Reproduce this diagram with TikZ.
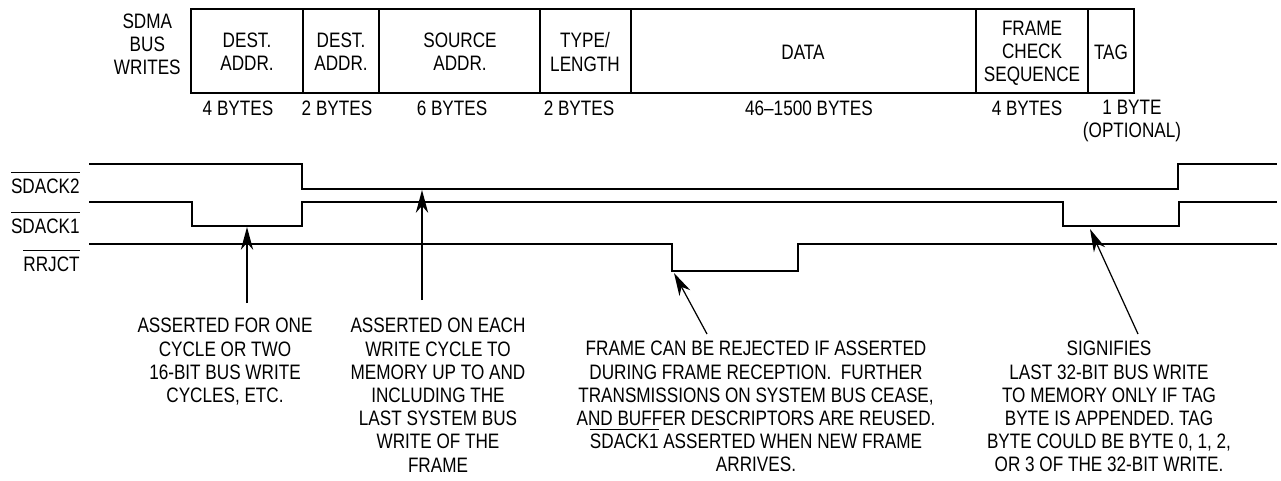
\documentclass[tikz,border=0pt]{standalone}
\usepackage{fontspec}
\setmainfont{Liberation Sans}[FakeStretch=0.82]
\usetikzlibrary{arrows.meta}

% active-low signal name, bar set a little above the capitals
\newcommand{\barsig}[2][10.4pt]{\ensuremath{\overline{\mbox{\rule{0pt}{#1}#2}}}}

\begin{document}
\begin{tikzpicture}[x=0.02cm, y=-0.02cm,
        % Define styles for the frame, the waveforms and the texts
        cell/.style={line width=1pt},
        wave/.style={line width=1pt, line join=miter},
        txt/.style={font=\fontsize{11.9}{13.2}\selectfont, align=center, inner sep=0pt},
        sig/.style={txt, anchor=base east},
        note/.style={txt, anchor=north},
        pointer/.style={line width=0.7pt, -{Stealth[length=13pt, width=7pt, inset=4pt]}}]

        \useasboundingbox (0,0) rectangle (1281,480);

        % 1. The frame as it is written over the SDMA bus
        \draw[cell] (191,9) rectangle (1134,93);
        \foreach \x in {303,379,540,631,976,1088}
            \draw[cell] (\x,9) -- (\x,93);

        \node[txt, anchor=east] (sdma) at (181,44) {SDMA\\BUS\\WRITES};
        \node[txt] (dest4) at (247,52) {DEST.\\ADDR.};
        \node[txt] (dest2) at (341,52) {DEST.\\ADDR.};
        \node[txt] (src) at (460,52) {SOURCE\\ADDR.};
        \node[txt] (type) at (585,52) {TYPE/\\LENGTH};
        \node[txt] (data) at (803,52) {DATA};
        \node[txt] (fcs) at (1032,53) {FRAME\\CHECK\\SEQUENCE};
        \node[txt] (tag) at (1111,52) {TAG};

        % 2. Field sizes
        \node[txt] (b4) at (238,108) {4 BYTES};
        \node[txt] (b2) at (337,108) {2 BYTES};
        \node[txt] (b6) at (452,108) {6 BYTES};
        \node[txt] (bt) at (579,108) {2 BYTES};
        \node[txt] (bd) at (809,108) {46--1500 BYTES};
        \node[txt] (bf) at (1027,108) {4 BYTES};
        \node[txt, anchor=north] (bg) at (1132,100) {1 BYTE\\(OPTIONAL)};

        % 3. The waveforms
        \node[sig] (sd2) at (80,193) {\barsig{SDACK2}};
        \node[sig] (sd1) at (80,233) {\barsig{SDACK1}};
        \node[sig] (rr) at (80,271) {\barsig{RRJCT}};

        \draw[wave] (89,164) -- (302,164) -- (302,189) -- (1178,189)
            -- (1178,164) -- (1277,164);
        \draw[wave] (89,202) -- (192,202) -- (192,226) -- (302,226)
            -- (302,202) -- (1063,202) -- (1063,226) -- (1179,226)
            -- (1179,202) -- (1277,202);
        \draw[wave] (89,244) -- (672,244) -- (672,271) -- (798,271)
            -- (798,244) -- (1277,244);

        % 4. Notes and the points they refer to
        \coordinate (p1) at (247,227);
        \coordinate (p2) at (422,190);
        \coordinate (p3) at (674,273);
        \coordinate (p4) at (1090,229);
        \coordinate (t1) at (247,303);
        \coordinate (t2) at (422,300);
        \coordinate (t3) at (707,334);
        \coordinate (t4) at (1138,334);

        \node[note] (n1) at (225,318) {ASSERTED FOR ONE\\CYCLE OR TWO\\16-BIT BUS WRITE\\CYCLES, ETC.};
        \node[note] (n2) at (438,318) {ASSERTED ON EACH\\WRITE CYCLE TO\\MEMORY UP TO AND\\INCLUDING THE\\LAST SYSTEM BUS\\WRITE OF THE\\FRAME};
        \node[note] (n3) at (756,341) {FRAME CAN BE REJECTED IF ASSERTED\\DURING FRAME RECEPTION.~~FURTHER\\TRANSMISSIONS ON SYSTEM BUS CEASE,\\AND BUFFER DESCRIPTORS ARE REUSED.\\\barsig[9.6pt]{SDACK1} ASSERTED WHEN NEW FRAME\\ARRIVES.};
        \node[note] (n4) at (1109,341) {SIGNIFIES\\LAST 32-BIT BUS WRITE\\TO MEMORY ONLY IF TAG\\BYTE IS APPENDED. TAG\\BYTE COULD BE BYTE 0, 1, 2,\\OR 3 OF THE 32-BIT WRITE.};

        \draw[pointer] (t1) -- (p1);
        \draw[pointer] (t2) -- (p2);
        \draw[pointer] (t3) -- (p3);
        \draw[pointer] (t4) -- (p4);
    \end{tikzpicture}
\end{document}
